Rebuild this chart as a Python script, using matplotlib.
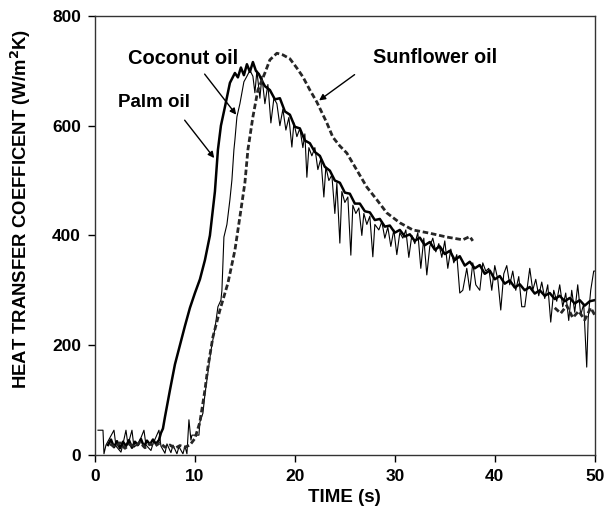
import numpy as np
import matplotlib.pyplot as plt

plt.rcParams['font.family'] = ['Liberation Sans', 'DejaVu Sans']
plt.rcParams['font.weight'] = 'bold'

# coconut oil (thick solid line)
coconut_t = [1.3, 1.6, 1.9, 2.2, 2.5, 2.8, 3.1, 3.4, 3.7, 4.0, 4.3, 4.6, 4.9, 5.2, 5.5, 5.8,
             6.1, 6.4, 6.6, 6.8, 7.0, 7.5, 8.0, 8.5, 9.0, 9.5, 10.0, 10.5, 11.0, 11.5, 12.0,
             12.3, 12.6, 13.0, 13.5, 14.0, 14.3, 14.6, 14.9, 15.2, 15.5, 15.8, 16.1, 16.4,
             16.7, 17.0, 17.5, 18.0, 18.5, 19.0, 19.5, 20.0, 20.5, 21.0, 21.5, 22.0, 22.5,
             23.0, 23.5, 24.0, 24.5, 25.0, 25.5, 26.0, 26.5, 27.0, 27.5, 28.0, 28.5, 29.0,
             29.5, 30.0, 30.5, 31.0, 31.5, 32.0, 32.5, 33.0, 33.5, 34.0, 34.5, 35.0, 35.5,
             36.0, 36.5, 37.0, 37.5, 38.0, 38.5, 39.0, 39.5, 40.0, 40.5, 41.0, 41.5, 42.0,
             42.5, 43.0, 43.5, 44.0, 44.5, 45.0, 45.5, 46.0, 46.5, 47.0, 47.5, 48.0, 48.5,
             49.0, 49.5, 50.0]
coconut_h = [18, 28, 14, 25, 12, 24, 16, 27, 13, 24, 18, 29, 15, 26, 19, 28,
             20, 27, 40, 48, 69, 118, 165, 200, 235, 268, 295, 320, 355, 400, 480,
             556, 600, 634, 678, 696, 688, 706, 692, 712, 698, 716, 700, 694,
             682, 672, 665, 648, 650, 626, 620, 598, 595, 573, 568, 552, 545,
             525, 518, 500, 496, 478, 476, 458, 458, 444, 442, 428, 430, 416,
             418, 405, 410, 398, 402, 390, 396, 382, 388, 374, 380, 366, 372,
             355, 362, 345, 352, 340, 346, 330, 336, 320, 326, 312, 318, 305,
             311, 300, 306, 294, 300, 290, 295, 284, 290, 280, 286, 276, 282,
             272, 280, 282]

# palm oil (thin line)
palm_t = [0.3, 0.8, 0.9, 1.1, 1.9, 2.1, 2.6, 2.8, 3.1, 3.3, 3.7, 3.9, 4.4, 4.9, 5.1, 5.6, 5.8,
          6.4, 6.6, 7.0, 7.2, 7.6, 7.8, 8.2, 8.4, 8.8, 9.0, 9.2, 9.4, 9.6, 9.7, 10.4, 10.5,
          10.8, 11.0, 11.3, 11.6, 12.0, 12.3, 12.6, 12.7, 12.9, 13.2, 13.5, 13.7, 13.9,
          14.0, 14.2, 14.5, 14.7, 14.9, 15.2, 15.5, 15.8, 16.0, 16.2, 16.5, 16.7, 17.0,
          17.3, 17.6, 17.9, 18.2, 18.5, 18.8, 19.1, 19.4, 19.7, 19.9, 20.2, 20.5, 20.8,
          21.0, 21.2, 21.4, 21.7, 22.0, 22.3, 22.6, 22.9, 23.1, 23.4, 23.7, 24.0, 24.2,
          24.5, 24.7, 25.0, 25.3, 25.6, 25.8, 26.1, 26.4, 26.7, 26.9, 27.2, 27.5, 27.8,
          28.0, 28.4, 28.7, 29.0, 29.3, 29.6, 29.9, 30.2, 30.5, 30.8, 31.1, 31.4, 31.7,
          32.0, 32.3, 32.6, 32.9, 33.2, 33.5, 33.8, 34.1, 34.4, 34.7, 35.0, 35.3, 35.6,
          35.9, 36.2, 36.5, 36.8, 37.2, 37.5, 37.8, 38.1, 38.5, 38.8, 39.1, 39.4, 39.7,
          40.0, 40.3, 40.6, 40.9, 41.2, 41.5, 41.8, 42.1, 42.4, 42.7, 43.0, 43.5, 43.8,
          44.1, 44.4, 44.7, 45.0, 45.3, 45.6, 45.9, 46.2, 46.5, 46.8, 47.1, 47.4, 47.7,
          48.0, 48.3, 48.6, 48.9, 49.2, 49.35, 49.6, 49.9, 50.0]
palm_h = [45, 45, 2, 18, 45, 16, 5, 20, 45, 18, 45, 14, 22, 45, 18, 8, 20,
          45, 16, 3, 20, 4, 18, 2, 15, 2, 16, 2, 64, 27, 36, 36, 60,
          76, 110, 150, 190, 230, 270, 282, 300, 397, 420, 465, 501, 556,
          574, 616, 640, 660, 680, 690, 701, 690, 660, 700, 650, 690, 640,
          675, 605, 650, 640, 600, 630, 592, 615, 561, 605, 580, 595, 560,
          585, 506, 560, 545, 560, 520, 540, 470, 525, 500, 510, 440, 495,
          386, 480, 460, 470, 364, 455, 440, 450, 400, 440, 420, 435, 361,
          420, 410, 425, 395, 415, 380, 410, 365, 405, 395, 410, 360, 400,
          385, 405, 340, 395, 328, 380, 395, 370, 385, 360, 390, 340, 375,
          350, 365, 295, 300, 340, 300, 350, 310, 300, 350, 335, 340, 300,
          345, 320, 264, 330, 345, 310, 335, 300, 325, 270, 270, 340, 300,
          320, 290, 315, 285, 310, 242, 300, 280, 310, 270, 295, 245, 300,
          260, 310, 255, 275, 160, 250, 300, 335, 335]

# sunflower oil (dashed line)
sun_t = [1.5, 2.0, 2.5, 3.0, 3.5, 4.0, 4.5, 5.0, 5.5, 6.0, 6.5, 7.0, 7.5, 8.0, 8.5, 9.0,
         9.5, 10.0, 10.5, 11.0, 11.3, 11.8, 12.5, 13.3, 14.0, 14.5, 15.0, 15.3, 15.8,
         16.3, 17.0, 17.5, 18.2, 18.8, 19.5, 20.2, 20.8, 21.5, 22.2, 23.2, 23.8, 24.5,
         25.2, 26.2, 27.2, 28.2, 29.2, 30.5, 31.8, 33.5, 35.2, 36.8, 37.5, 37.8,
         37.9, 46.0, 46.6, 47.2, 47.8, 48.4, 49.0, 49.6, 50.0]
sun_h = [20, 14, 22, 12, 19, 15, 23, 13, 20, 16, 22, 14, 18, 12, 17, 14,
         18, 30, 60, 118, 160, 215, 264, 313, 373, 434, 496, 556, 616,
         665, 696, 720, 732, 729, 722, 705, 689, 665, 643, 605, 579, 563,
         550, 519, 488, 465, 441, 423, 410, 404, 397, 392, 398, 390,
         np.nan, 268, 258, 272, 250, 262, 246, 268, 255]

fig, ax = plt.subplots(figsize=(6.05, 5.14), dpi=100)
fig.subplots_adjust(left=0.157, right=0.983, bottom=0.115, top=0.969)

ax.plot(palm_t, palm_h, color='black', lw=0.8)
ax.plot(coconut_t, coconut_h, color='black', lw=1.8)
ax.plot(sun_t, sun_h, color='#262626', lw=2.0, linestyle=(0, (2, 1)))

ax.set_xlim(0, 50)
ax.set_ylim(0, 800)
ax.set_xticks([0, 10, 20, 30, 40, 50])
ax.set_yticks([0, 200, 400, 600, 800])
ax.tick_params(direction='out', length=5, width=1, labelsize=12.5, pad=5,
               top=False, right=False)
for lab in ax.get_xticklabels() + ax.get_yticklabels():
    lab.set_fontweight('bold')
for sp in ax.spines.values():
    sp.set_color('#333333')
    sp.set_linewidth(1)

ax.set_xlabel('TIME (s)', fontsize=13.5, fontweight='bold', labelpad=4)
ax.set_ylabel('HEAT TRANSFER COEFFICENT (W/m$^\\mathbf{2}$K)', fontsize=13.3,
              fontweight='bold')
ax.yaxis.set_label_coords(-0.124, 0.56)

arrow = dict(arrowstyle='-|>', color='black', lw=1, mutation_scale=9)
ax.text(8.8, 722, 'Coconut oil', fontsize=14.5, fontweight='bold', ha='center', va='center')
ax.annotate('', xy=(14.3, 616), xytext=(10.8, 698), arrowprops=arrow)
ax.text(5.9, 643, 'Palm oil', fontsize=13.5, fontweight='bold', ha='center', va='center')
ax.annotate('', xy=(12.1, 537), xytext=(8.8, 614), arrowprops=arrow)
ax.text(34.0, 725, 'Sunflower oil', fontsize=14.2, fontweight='bold', ha='center', va='center')
ax.annotate('', xy=(22.2, 643), xytext=(26.2, 696), arrowprops=arrow)

fig.savefig('out.png', dpi=100)
